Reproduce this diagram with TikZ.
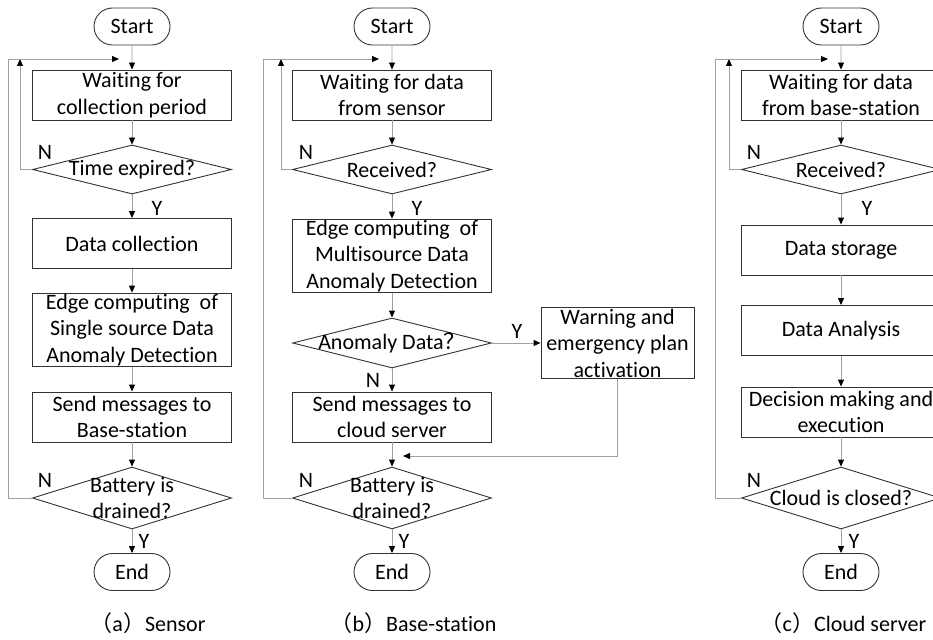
\documentclass[tikz,border=0pt]{standalone}
\usepackage{fontspec}
\setmainfont{Carlito}[RawFeature={-liga;-clig;-calt;-dlig}]
\newfontfamily\cjkfont{Noto Sans CJK SC}
\usetikzlibrary{shapes.geometric,shapes.misc,arrows.meta}

\definecolor{edgegray}{RGB}{160,160,160}
\definecolor{framegray}{RGB}{50,50,50}

\tikzset{
  terminal/.style={draw=framegray, rounded rectangle,
    minimum width=76pt, minimum height=37pt, inner sep=0pt},
  process/.style={draw=framegray, rectangle,
    minimum width=199pt, minimum height=50pt,
    inner xsep=0pt, inner ysep=1pt, align=center},
  decision/.style={draw=framegray, diamond,
    minimum width=199pt, minimum height=49pt, inner sep=0pt},
  flow/.style={draw=edgegray, -{Triangle[length=7pt, width=6pt, black]}},
  yn/.style={inner sep=0pt},
  caption/.style={inner sep=0pt}
}

\begin{document}
\begin{tikzpicture}[x=1pt, y=-1pt, line width=0.9pt,
    font=\fontsize{22pt}{26.5pt}\selectfont]

\useasboundingbox (0,0) rectangle (933,639);

% (a) sensor
\node [terminal] (startA) at (132,26.5) {Start};
\node [process] (waitA) at (132,95) {Waiting for\\collection period};
\node [decision,
    label={[name=expiredT]center:Time expired?}] (expired) at (132,169.5) {};
\node [process] (collect) at (132,243.5) {Data collection};
\node [process] (edgeA) at (132,330) {Edge computing\ \ of\\Single source Data\\Anomaly Detection};
\node [process] (sendA) at (132,417) {Send messages to\\Base-station};
\node [decision,
    minimum height=62pt,
    label={[name=battAT, align=center]center:Battery is\\drained?}] (battA) at (132,498) {};
\node [terminal] (endA) at (132,572) {End};
\node [caption] (capA) at (148,623) {{\cjkfont （}a{\cjkfont ）}Sensor};

\node [yn] (nExp) at (45,152) {N};
\node [yn] (yExp) at (157,208) {Y};
\node [yn] (nBattA) at (45,480) {N};
\node [yn] (yBattA) at (144,541) {Y};

\coordinate (loopA) at (119,59);
\coordinate (innerA) at (20,59);

\draw [flow] (startA) -- (waitA);
\draw [flow] (waitA) -- (expired);
\draw [flow] (expired) -- (collect);
\draw [flow] (collect) -- (edgeA);
\draw [flow] (edgeA) -- (sendA);
\draw [flow] (sendA) -- (battA);
\draw [flow] (battA) -- (endA);
\draw [flow] (expired.west) -| (innerA);
\draw [flow] (battA.west) -- ++(-24pt,0pt) |- (loopA);

% (b) base-station
\node [terminal] (startB) at (392,26.5) {Start};
\node [process] (waitB) at (392,95) {Waiting for data\\from sensor};
\node [decision,
    label={[name=recvBT]center:Received?}] (recvB) at (392,169.5) {};
\node [process] (edgeB) at (392,256) {Edge computing\ \ of\\Multisource Data\\Anomaly Detection};
\node [decision,
    minimum height=50pt,
    label={[name=anomalyT]center:Anomaly Data{\cjkfont ？}}] (anomaly) at (392,343) {};
\node [process,
    minimum width=153pt] (warn) at (617.5,343) {Warning and\\emergency plan\\activation};
\node [process] (sendB) at (392,417) {Send messages to\\cloud server};
\node [decision,
    minimum height=62pt,
    label={[name=battBT, align=center]center:Battery is\\drained?}] (battB) at (392,498) {};
\node [terminal] (endB) at (392,572) {End};
\node [caption] (capB) at (413.5,623) {{\cjkfont （}b{\cjkfont ）}Base-station};

\node [yn] (nRecvB) at (306,152) {N};
\node [yn] (yRecvB) at (417,208) {Y};
\node [yn] (yAnom) at (517,331) {Y};
\node [yn] (nAnom) at (373,380) {N};
\node [yn] (nBattB) at (306,480) {N};
\node [yn] (yBattB) at (404,541) {Y};

\coordinate (loopB) at (379,59);
\coordinate (innerB) at (281,59);
\coordinate (mergeB) at (403,456);

\draw [flow] (startB) -- (waitB);
\draw [flow] (waitB) -- (recvB);
\draw [flow] (recvB) -- (edgeB);
\draw [flow] (edgeB) -- (anomaly);
\draw [flow] (anomaly) -- (sendB);
\draw [flow] (anomaly.east) -- (warn.west);
\draw [flow] (sendB) -- (battB);
\draw [flow] (warn.south) |- (mergeB);
\draw [flow] (battB) -- (endB);
\draw [flow] (recvB.west) -| (innerB);
\draw [flow] (battB.west) -- ++(-29pt,0pt) |- (loopB);

% (c) cloud server
\node [terminal] (startC) at (841,26.5) {Start};
\node [process] (waitC) at (841,95) {Waiting for data\\from base-station};
\node [decision,
    label={[name=recvCT]center:Received?}] (recvC) at (841,169.5) {};
\node [process] (store) at (841,250) {Data storage};
\node [process] (analysis) at (841,330.5) {Data Analysis};
\node [process] (decide) at (841,412) {Decision making and\\execution};
\node [decision,
    minimum height=62pt,
    label={[name=closedT]center:Cloud is closed?}] (closed) at (841,498) {};
\node [terminal] (endC) at (841,572) {End};
\node [caption] (capC) at (843.5,623) {{\cjkfont （}c{\cjkfont ）}Cloud server};

\node [yn] (nRecvC) at (754,152) {N};
\node [yn] (yRecvC) at (867,208) {Y};
\node [yn] (nClosed) at (754,480) {N};
\node [yn] (yClosed) at (854,541) {Y};

\coordinate (loopC) at (828,59);
\coordinate (innerC) at (729,59);

\draw [flow] (startC) -- (waitC);
\draw [flow] (waitC) -- (recvC);
\draw [flow] (recvC) -- (store);
\draw [flow] (store) -- (analysis);
\draw [flow] (analysis) -- (decide);
\draw [flow] (decide) -- (closed);
\draw [flow] (closed) -- (endC);
\draw [flow] (recvC.west) -| (innerC);
\draw [flow] (closed.west) -- ++(-26pt,0pt) |- (loopC);

\end{tikzpicture}
\end{document}
